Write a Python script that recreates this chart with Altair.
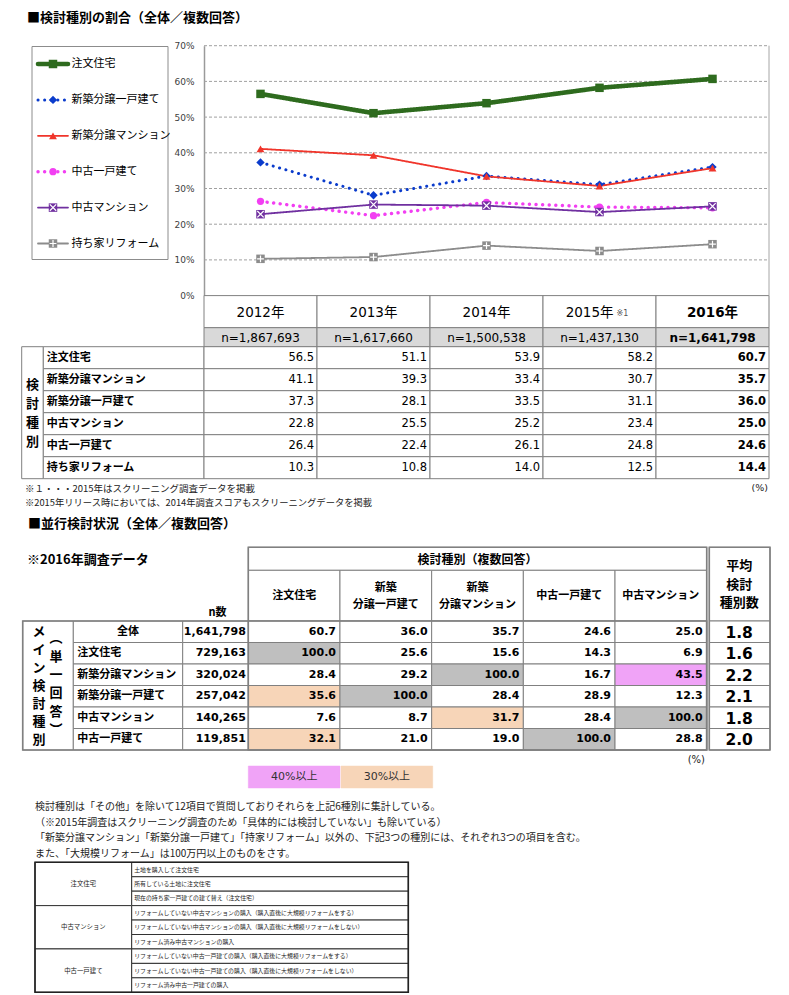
import altair as alt
import pandas as pd

# ------------------------------------------------------------------ data
TITLE_1 = "■検討種別の割合（全体／複数回答）"
TITLE_2 = "■並行検討状況（全体／複数回答）"
SUBTITLE_2 = "※2016年調査データ"

YEARS = ["2012年", "2013年", "2014年", "2015年", "2016年"]
YEAR_NOTES = ["", "", "", "※1", ""]
N_LABELS = ["n=1,867,693", "n=1,617,660", "n=1,500,538", "n=1,437,130", "n=1,641,798"]
Y_TICKS = [0, 10, 20, 30, 40, 50, 60, 70]

LEGEND_ORDER = ["注文住宅", "新築分譲一戸建て", "新築分譲マンション", "中古一戸建て", "中古マンション", "持ち家リフォーム"]
TABLE1_ORDER = ["注文住宅", "新築分譲マンション", "新築分譲一戸建て", "中古マンション", "中古一戸建て", "持ち家リフォーム"]
DRAW_ORDER = ["持ち家リフォーム", "中古一戸建て", "中古マンション", "新築分譲一戸建て", "新築分譲マンション", "注文住宅"]

CHUMON = [56.5, 51.1, 53.9, 58.2, 60.7]
SHIN_MANSION = [41.1, 39.3, 33.4, 30.7, 35.7]
SHIN_KODATE = [37.3, 28.1, 33.5, 31.1, 36.0]
CHUKO_MANSION = [22.8, 25.5, 25.2, 23.4, 25.0]
CHUKO_KODATE = [26.4, 22.4, 26.1, 24.8, 24.6]
REFORM = [10.3, 10.8, 14.0, 12.5, 14.4]
SERIES_VALUES = {
    "注文住宅": CHUMON,
    "新築分譲マンション": SHIN_MANSION,
    "新築分譲一戸建て": SHIN_KODATE,
    "中古マンション": CHUKO_MANSION,
    "中古一戸建て": CHUKO_KODATE,
    "持ち家リフォーム": REFORM,
}
T1_SIDE_LABEL = "検討種別"
T1_NOTES = ["※１・・・2015年はスクリーニング調査データを掲載",
            "※2015年リリース時においては、2014年調査スコアもスクリーニングデータを掲載"]
UNIT = "(%)"

T2_HEADER = "検討種別（複数回答）"
T2_COLS = ["注文住宅", "新築分譲一戸建て", "新築分譲マンション", "中古一戸建て", "中古マンション"]
T2_COL_LINES = [["注文住宅"], ["新築", "分譲一戸建て"], ["新築", "分譲マンション"], ["中古一戸建て"], ["中古マンション"]]
T2_AVG_HEADER = ["平均", "検討", "種別数"]
T2_N_HEADER = "n数"
T2_ROWS = ["全体", "注文住宅", "新築分譲マンション", "新築分譲一戸建て", "中古マンション", "中古一戸建て"]
T2_N = [1641798, 729163, 320024, 257042, 140265, 119851]
T2_ZENTAI = [60.7, 36.0, 35.7, 24.6, 25.0]
T2_CHUMON = [100.0, 25.6, 15.6, 14.3, 6.9]
T2_SHIN_MANSION = [28.4, 29.2, 100.0, 16.7, 43.5]
T2_SHIN_KODATE = [35.6, 100.0, 28.4, 28.9, 12.3]
T2_CHUKO_MANSION = [7.6, 8.7, 31.7, 28.4, 100.0]
T2_CHUKO_KODATE = [32.1, 21.0, 19.0, 100.0, 28.8]
T2_VALUES = [T2_ZENTAI, T2_CHUMON, T2_SHIN_MANSION, T2_SHIN_KODATE, T2_CHUKO_MANSION, T2_CHUKO_KODATE]
T2_AVG = [1.8, 1.6, 2.2, 2.1, 1.8, 2.0]
T2_SIDE_1 = "メイン検討種別"
T2_SIDE_2 = "︵単一回答︶"
HIGHLIGHT_LABELS = ["40%以上", "30%以上"]
HIGHLIGHT_THRESHOLDS = [40, 30]

NOTES = [
    "検討種別は「その他」を除いて12項目で質問しておりそれらを上記6種別に集計している。",
    "（※2015年調査はスクリーニング調査のため「具体的には検討していない」も除いている）",
    "「新築分譲マンション」「新築分譲一戸建て」「持家リフォーム」以外の、下記3つの種別には、それぞれ3つの項目を含む。",
    "また、「大規模リフォーム」は100万円以上のものをさす。",
]
DETAIL_GROUPS = ["注文住宅", "中古マンション", "中古一戸建て"]
DETAIL_ITEMS = [
    ["土地を購入して注文住宅", "所有している土地に注文住宅", "現在の持ち家一戸建ての建て替え（注文住宅）"],
    ["リフォームしていない中古マンションの購入（購入直後に大規模リフォームをする）",
     "リフォームしていない中古マンションの購入（購入直後に大規模リフォームをしない）",
     "リフォーム済み中古マンションの購入"],
    ["リフォームしていない中古一戸建ての購入（購入直後に大規模リフォームをする）",
     "リフォームしていない中古一戸建ての購入（購入直後に大規模リフォームをしない）",
     "リフォーム済み中古一戸建ての購入"],
]

# ------------------------------------------------------------------ styles
CJK = "Noto Sans CJK JP"
NUM = "DejaVu Sans, Noto Sans CJK JP"
GRID_GRAY = "#808080"
PINK = "#f0a3f7"
PEACH = "#f7d5b8"
SAME = "#bfbfbf"
XPATH = "M-0.75,-0.75L0.75,0.75M-0.75,0.75L0.75,-0.75"
PLUSPATH = "M-0.8,0H0.8M0,-0.8V0.8"
STYLE = {
    "注文住宅": dict(color="#2e6b1e", dash=[1, 0], width=4.6, shape="square", size=72),
    "新築分譲一戸建て": dict(color="#0b3ccc", dash=[0.1, 6.5], width=3.0, shape="diamond", size=70),
    "新築分譲マンション": dict(color="#f0352b", dash=[1, 0], width=1.8, shape="triangle-up", size=62),
    "中古一戸建て": dict(color="#f23ff2", dash=[0.1, 6.5], width=3.4, shape="circle", size=52),
    "中古マンション": dict(color="#7030a0", dash=[1, 0], width=1.8, shape="square", size=72),
    "持ち家リフォーム": dict(color="#8c8c8c", dash=[1, 0], width=1.8, shape="square", size=72),
}

# ------------------------------------------------------------------ layout (page px)
W, H = 773, 987
ORG = 8
CX = alt.Scale(domain=[ORG, ORG + W], range=[0, W], nice=False, zero=False)
CY = alt.Scale(domain=[ORG, ORG + H], range=[0, H], nice=False, zero=False)

PLOT_L, PLOT_T, PLOT_R, PLOT_B = 204, 45.7, 769, 295.6
NCOL = len(YEARS)
COL_W = (PLOT_R - PLOT_L) / NCOL
COLS1 = [PLOT_L + COL_W * i for i in range(NCOL + 1)]
LX = alt.Scale(type="point", domain=YEARS, range=[PLOT_L - ORG, PLOT_R - ORG], padding=0.5)
LY = alt.Scale(domain=[0, 70], range=[PLOT_B - ORG, PLOT_T - ORG], nice=False, zero=False)

rects, rules, texts = [], [], []


def R(x0, y0, x1, y1, fill="#ffffff", stroke=GRID_GRAY, sw=1.0):
    rects.append(dict(x0=x0, y0=y0, x1=x1, y1=y1, fill=fill, stroke=stroke, sw=sw))


def L(x0, y0, x1, y1, color=GRID_GRAY, sw=1.0):
    rules.append(dict(x0=x0, y0=y0, x1=x1, y1=y1, color=color, sw=sw))


def T(x, y, s, size, align="left", weight="normal", font=CJK, color="#000000"):
    texts.append(dict(x=x, y=y, text=s, size=size, align=align, weight=weight, font=font, color=color))


# ---- section 1 title + legend box
T(27, 18.2, TITLE_1, 13, weight="bold")
LEG_BOX = (32, 46.5, 168, 259.5)
LEG_Y0, LEG_DY = 64, 35.9
LEG_LINE_X = (38, 68)
LEG_MARK_X = 53
LEG_TEXT_X = 71.5
R(*LEG_BOX, fill="#ffffff", stroke="#8c8c8c")
for i, s in enumerate(LEGEND_ORDER):
    T(LEG_TEXT_X, LEG_Y0 + LEG_DY * i, s, 11)
L(PLOT_R, PLOT_T, PLOT_R, PLOT_B, color="#a6a6a6")

# ---- table 1
Y_YEAR = (PLOT_B, 327.7)
Y_N = (327.7, 346.7)
T1_TOP, T1_RH = 346.7, 22.0
T1_SIDE = (21.7, 43.3)
for i, yr in enumerate(YEARS):
    x0, x1 = COLS1[i], COLS1[i + 1]
    cx = (x0 + x1) / 2
    wt = "bold" if i == NCOL - 1 else "normal"
    R(x0, Y_YEAR[0], x1, Y_YEAR[1])
    R(x0, Y_N[0], x1, Y_N[1], fill="#d9d9d9")
    if YEAR_NOTES[i]:
        T(cx + 14, 313, yr, 13.5, align="right", font=NUM)
        T(cx + 17, 314, YEAR_NOTES[i], 8, align="left", font=NUM, color="#555555")
    else:
        T(cx, 313, yr, 13.5, align="center", weight=wt, font=NUM)
    T(cx, 337.5, N_LABELS[i], 12, align="center", weight=wt, font=NUM)
R(T1_SIDE[0], T1_TOP, T1_SIDE[1], T1_TOP + T1_RH * len(TABLE1_ORDER))
for k, ch in enumerate(T1_SIDE_LABEL):
    T((T1_SIDE[0] + T1_SIDE[1]) / 2, 385 + 18.9 * k, ch, 13, align="center", weight="bold")
for r, s in enumerate(TABLE1_ORDER):
    y0 = T1_TOP + T1_RH * r
    y1 = y0 + T1_RH
    cy = (y0 + y1) / 2
    R(T1_SIDE[1], y0, PLOT_L, y1)
    T(T1_SIDE[1] + 3.4, cy, s, 11, weight="bold")
    for i, v in enumerate(SERIES_VALUES[s]):
        R(COLS1[i], y0, COLS1[i + 1], y1)
        T(COLS1[i + 1] - 3, cy, f"{v:.1f}", 11.5, align="right",
          weight="bold" if i == NCOL - 1 else "normal", font=NUM)
T(25, 489, T1_NOTES[0], 9.5, color="#222222")
T(25, 503, T1_NOTES[1], 9.3, color="#222222")
T(768, 488, UNIT, 9.5, align="right", font=NUM, color="#222222")

# ---- section 2
T(28, 524, TITLE_2, 13, weight="bold")
T(27, 560, SUBTITLE_2, 13, weight="bold")
T2_LEFT = [22.7, 73.3, 182.7, 248.3]
T2_CW = (706.7 - 248.3) / len(T2_COLS)
T2_VX = [248.3 + T2_CW * j for j in range(len(T2_COLS) + 1)]
T2_AVG_X = (709.3, 770)
T2_HY = (547.3, 570.3, 621.0)
T2_TOP, T2_RH = 621.0, 21.5
T2_BOTTOM = T2_TOP + T2_RH * len(T2_ROWS)
avg_cx = (T2_AVG_X[0] + T2_AVG_X[1]) / 2 - 0.5

R(T2_VX[0], T2_HY[0], T2_VX[-1], T2_HY[1])
T((T2_VX[0] + T2_VX[-1]) / 2, 559.5, T2_HEADER, 12, align="center", weight="bold")
for j, lines in enumerate(T2_COL_LINES):
    x0, x1 = T2_VX[j], T2_VX[j + 1]
    cx = (x0 + x1) / 2
    R(x0, T2_HY[1], x1, T2_HY[2])
    if len(lines) == 1:
        T(cx, 596, lines[0], 11, align="center", weight="bold")
    else:
        T(cx, 588, lines[0], 11, align="center", weight="bold")
        T(cx, 605, lines[1], 11, align="center", weight="bold")
R(T2_AVG_X[0], T2_HY[0], T2_AVG_X[1], T2_HY[2])
for k, s in enumerate(T2_AVG_HEADER):
    T(avg_cx, 566 + 18.7 * k, s, 13, align="center", weight="bold")
T((T2_LEFT[2] + T2_LEFT[3]) / 2 + 2, 613, T2_N_HEADER, 11, align="center", weight="bold")

R(T2_LEFT[0], T2_TOP, T2_LEFT[1], T2_BOTTOM)
for k, ch in enumerate(T2_SIDE_1):
    T(39, 632 + 18 * k, ch, 13, align="center", weight="bold")
for k, ch in enumerate(T2_SIDE_2):
    T(56, 638.4 + 18.3 * k, ch, 13, align="center", weight="bold")


def cell_fill(r, j, v):
    if r == 0:
        return "#ffffff"
    if T2_ROWS[r] == T2_COLS[j]:
        return SAME
    if v >= HIGHLIGHT_THRESHOLDS[0]:
        return PINK
    if v >= HIGHLIGHT_THRESHOLDS[1]:
        return PEACH
    return "#ffffff"


for r, s in enumerate(T2_ROWS):
    y0 = T2_TOP + T2_RH * r
    y1 = y0 + T2_RH
    cy = (y0 + y1) / 2
    R(T2_LEFT[1], y0, T2_LEFT[2], y1)
    if r == 0:
        T((T2_LEFT[1] + T2_LEFT[2]) / 2, cy, s, 11, align="center", weight="bold")
    else:
        T(T2_LEFT[1] + 4, cy, s, 11, weight="bold")
    R(T2_LEFT[2], y0, T2_LEFT[3], y1)
    T(T2_LEFT[3] - 2.5, cy, f"{T2_N[r]:,}", 11, align="right", weight="bold", font=NUM)
    for j, v in enumerate(T2_VALUES[r]):
        R(T2_VX[j], y0, T2_VX[j + 1], y1, fill=cell_fill(r, j, v))
        T(T2_VX[j + 1] - 4, cy, f"{v:.1f}", 11, align="right", weight="bold", font=NUM)
    R(T2_AVG_X[0], y0, T2_AVG_X[1], y1)
    T(avg_cx, cy + 1, f"{T2_AVG[r]:.1f}", 15.5, align="center", weight="bold", font=NUM)
R(T2_LEFT[0], T2_TOP, T2_VX[-1], T2_BOTTOM, fill="transparent", sw=1.6)
R(T2_VX[0], T2_HY[0], T2_VX[-1], T2_BOTTOM, fill="transparent", sw=1.6)
R(T2_AVG_X[0], T2_HY[0], T2_AVG_X[1], T2_BOTTOM, fill="transparent", sw=1.6)

# highlight legend
HL_BOXES = [(248.3, 340.0), (341.0, 432.7)]
for (x0, x1), lab, col in zip(HL_BOXES, HIGHLIGHT_LABELS, [PINK, PEACH]):
    R(x0, 766, x1, 788, fill=col, stroke=col, sw=0.5)
    T((x0 + x1) / 2, 777, lab, 11, align="center", font=NUM, color="#333333")
T(705, 760, UNIT, 10, align="right", font=NUM, color="#222222")

# notes
for k, s in enumerate(NOTES):
    T(35, 807 + 15.7 * k, s, 10, color="#222222")

# detail table
DX = (35, 131.7, 408.3)
DY0, DRH = 862.3, 14.44
for g, grp in enumerate(DETAIL_GROUPS):
    y0 = DY0 + DRH * 3 * g
    y1 = y0 + DRH * 3
    R(DX[0], y0, DX[1], y1, stroke="#333333")
    T((DX[0] + DX[1]) / 2, (y0 + y1) / 2, grp, 6.4, align="center", color="#222222")
    for k, item in enumerate(DETAIL_ITEMS[g]):
        yy0 = y0 + DRH * k
        R(DX[1], yy0, DX[2], yy0 + DRH, stroke="#333333")
        T(DX[1] + 2.5, yy0 + DRH / 2, item, 5.9, color="#222222")
R(DX[0], DY0, DX[2], DY0 + DRH * 9, fill="transparent", stroke="#222222", sw=1.6)

# ------------------------------------------------------------------ layers
rect_layer = alt.Chart(pd.DataFrame(rects)).mark_rect().encode(
    x=alt.X("x0:Q", scale=CX, axis=None), x2=alt.X2("x1"),
    y=alt.Y("y0:Q", scale=CY, axis=None), y2=alt.Y2("y1"),
    fill=alt.Fill("fill:N", scale=None),
    stroke=alt.Stroke("stroke:N", scale=None),
    strokeWidth=alt.StrokeWidth("sw:Q", scale=None),
)
rule_layer = alt.Chart(pd.DataFrame(rules)).mark_rule().encode(
    x=alt.X("x0:Q", scale=CX, axis=None), x2=alt.X2("x1"),
    y=alt.Y("y0:Q", scale=CY, axis=None), y2=alt.Y2("y1"),
    color=alt.Color("color:N", scale=None),
    strokeWidth=alt.StrokeWidth("sw:Q", scale=None),
)

Y_AXIS = alt.Axis(orient="left", offset=-(PLOT_L - ORG), values=Y_TICKS,
                  labelExpr="datum.value + '%'", ticks=False, tickSize=0, labelPadding=10,
                  labelFontSize=9, labelFont="DejaVu Sans", labelColor="#404040",
                  domain=True, domainColor="#9a9a9a", domainWidth=1.5, grid=False, title=None)
grid_df = pd.DataFrame({"v": Y_TICKS[1:], "x0": PLOT_L, "x1": PLOT_R})
grid_layer = alt.Chart(grid_df).mark_rule(color="#a0a0a0", strokeDash=[3, 2], strokeWidth=1).encode(
    x=alt.X("x0:Q", scale=CX, axis=None), x2=alt.X2("x1"),
    y=alt.Y("v:Q", scale=LY, axis=Y_AXIS),
)

color_scale = alt.Scale(domain=LEGEND_ORDER, range=[STYLE[s]["color"] for s in LEGEND_ORDER])
dash_scale = alt.Scale(domain=LEGEND_ORDER, range=[STYLE[s]["dash"] for s in LEGEND_ORDER])
shape_scale = alt.Scale(domain=LEGEND_ORDER, range=[STYLE[s]["shape"] for s in LEGEND_ORDER])
OVERLAY = ["中古マンション", "持ち家リフォーム"]
overlay_scale = alt.Scale(domain=OVERLAY, range=[XPATH, PLUSPATH])

rows = []
for s in DRAW_ORDER:
    for yr, v in zip(YEARS, SERIES_VALUES[s]):
        rows.append(dict(series=s, year=yr, value=v, sw=STYLE[s]["width"], size=STYLE[s]["size"]))
line_df = pd.DataFrame(rows)

lx = alt.X("year:N", scale=LX, axis=None)
ly = alt.Y("value:Q", scale=LY, axis=None)
line_layer = alt.Chart(line_df).mark_line(strokeCap="round", strokeJoin="round").encode(
    x=lx, y=ly,
    color=alt.Color("series:N", scale=color_scale, legend=None),
    strokeDash=alt.StrokeDash("series:N", scale=dash_scale, legend=None),
    strokeWidth=alt.StrokeWidth("sw:Q", scale=None),
)
point_layer = alt.Chart(line_df).mark_point(filled=True, opacity=1).encode(
    x=lx, y=ly,
    color=alt.Color("series:N", scale=color_scale, legend=None),
    shape=alt.Shape("series:N", scale=shape_scale, legend=None),
    size=alt.Size("size:Q", scale=None),
)
overlay_layer = alt.Chart(line_df[line_df.series.isin(OVERLAY)]).mark_point(
    filled=False, color="white", strokeWidth=1.2, opacity=1).encode(
    x=lx, y=ly,
    shape=alt.Shape("series:N", scale=overlay_scale, legend=None),
    size=alt.Size("size:Q", scale=None),
)

# legend samples
leg_rows, leg_pts = [], []
for i, s in enumerate(LEGEND_ORDER):
    yy = LEG_Y0 + LEG_DY * i
    for xx in LEG_LINE_X:
        leg_rows.append(dict(series=s, x=xx, y=yy, sw=STYLE[s]["width"]))
    leg_pts.append(dict(series=s, x=LEG_MARK_X, y=yy, size=STYLE[s]["size"]))
leg_line_df = pd.DataFrame(leg_rows)
leg_pt_df = pd.DataFrame(leg_pts)
cxe = alt.X("x:Q", scale=CX, axis=None)
cye = alt.Y("y:Q", scale=CY, axis=None)
leg_lines = alt.Chart(leg_line_df).mark_line(strokeCap="round").encode(
    x=cxe, y=cye, detail="series:N",
    color=alt.Color("series:N", scale=color_scale, legend=None),
    strokeDash=alt.StrokeDash("series:N", scale=dash_scale, legend=None),
    strokeWidth=alt.StrokeWidth("sw:Q", scale=None),
)
leg_points = alt.Chart(leg_pt_df).mark_point(filled=True, opacity=1).encode(
    x=cxe, y=cye,
    color=alt.Color("series:N", scale=color_scale, legend=None),
    shape=alt.Shape("series:N", scale=shape_scale, legend=None),
    size=alt.Size("size:Q", scale=None),
)
leg_overlay = alt.Chart(leg_pt_df[leg_pt_df.series.isin(OVERLAY)]).mark_point(
    filled=False, color="white", strokeWidth=1.2, opacity=1).encode(
    x=cxe, y=cye,
    shape=alt.Shape("series:N", scale=overlay_scale, legend=None),
    size=alt.Size("size:Q", scale=None),
)

text_df = pd.DataFrame(texts)
text_layers = []
for (align, weight, font), g in text_df.groupby(["align", "weight", "font"], sort=False):
    text_layers.append(
        alt.Chart(g).mark_text(align=align, baseline="middle", fontWeight=weight, font=font).encode(
            x=alt.X("x:Q", scale=CX, axis=None),
            y=alt.Y("y:Q", scale=CY, axis=None),
            text="text:N",
            size=alt.Size("size:Q", scale=None),
            color=alt.Color("color:N", scale=None),
        )
    )

chart = alt.layer(
    rect_layer, rule_layer, grid_layer, line_layer, point_layer, overlay_layer,
    leg_lines, leg_points, leg_overlay, *text_layers
).resolve_scale(
    x="independent", y="independent", color="independent", fill="independent",
    stroke="independent", strokeDash="independent", strokeWidth="independent",
    shape="independent", size="independent",
).properties(
    width=W, height=H, padding=0, background="white",
    autosize=alt.AutoSizeParams(type="none"),
).configure_view(strokeWidth=0)

chart.save("out.html", embed_options={"renderer": "svg", "actions": False})
